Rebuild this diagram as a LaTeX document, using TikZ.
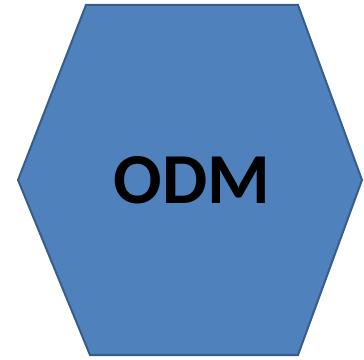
\documentclass[tikz,border=0pt]{standalone}
\usepackage{fontspec}
\setmainfont{Carlito}
\usetikzlibrary{positioning}

\definecolor{hexfill}{RGB}{79,129,189}
\definecolor{hexline}{RGB}{56,93,138}

\begin{document}
\begin{tikzpicture}[
  x=1bp, y=1bp,
  hexshape/.style={fill=hexfill, draw=hexline, line width=2bp, line join=miter},
  title/.style={font=\fontsize{72}{72}\selectfont\bfseries, text=black},
]
\useasboundingbox (0,0) rectangle (364,360);

% === HEXAGON ===
\draw[hexshape] (86,355) -- (298,355) -- (362,180) -- (298,5)
  -- (90,5) -- (18,180) -- cycle;

\node[title] (odm) at (192,180) {ODM};
\end{tikzpicture}
\end{document}
